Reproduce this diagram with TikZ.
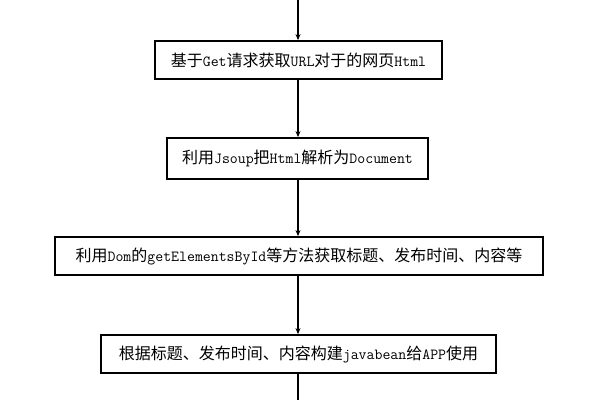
\documentclass[tikz,border=0pt]{standalone}
\usepackage{fontspec}
\newfontfamily\cjk{Noto Sans CJK SC}
\newcommand\en[1]{{\fontsize{15.4}{16}\ttfamily #1}}
\usetikzlibrary{arrows.meta}
\begin{document}
\begin{tikzpicture}[x=1pt,y=-1pt,
  box/.style={draw, line width=1.8pt, minimum height=38pt, inner sep=0pt, fill=white,
    font=\cjk\fontsize{16}{16}\selectfont},
  conn/.style={line width=1.5pt, -{Stealth[length=6pt,width=5pt]}},
  plain/.style={line width=1.5pt}]
\useasboundingbox (0,0) rectangle (600,400);
\fill[white] (0,0) rectangle (600,400);
\coordinate (top) at (298,0);
\coordinate (bot) at (298,400);
\node[box, minimum width=287pt] (b1) at (298.5,60) {基于\en{Get}请求获取\en{URL}对于的网页\en{Html}};
\node[box, minimum width=261pt, minimum height=41pt] (b2) at (297.5,158.5) {利用\en{Jsoup}把\en{Html}解析为\en{Document}};
\node[box, minimum width=488pt] (b3) at (299,256) {利用\en{Dom}的\en{getElementsById}等方法获取标题、发布时间、内容等};
\node[box, minimum width=395pt] (b4) at (298.5,354) {根据标题、发布时间、内容构建\en{javabean}给\en{APP}使用};
\draw[conn] (top) -- (top |- b1.north);
\draw[conn] (b1.south -| top) -- (top |- b2.north);
\draw[conn] (b2.south -| top) -- (top |- b3.north);
\draw[conn] (b3.south -| top) -- (top |- b4.north);
\draw[plain] (b4.south -| top) -- (bot);
\end{tikzpicture}
\end{document}
